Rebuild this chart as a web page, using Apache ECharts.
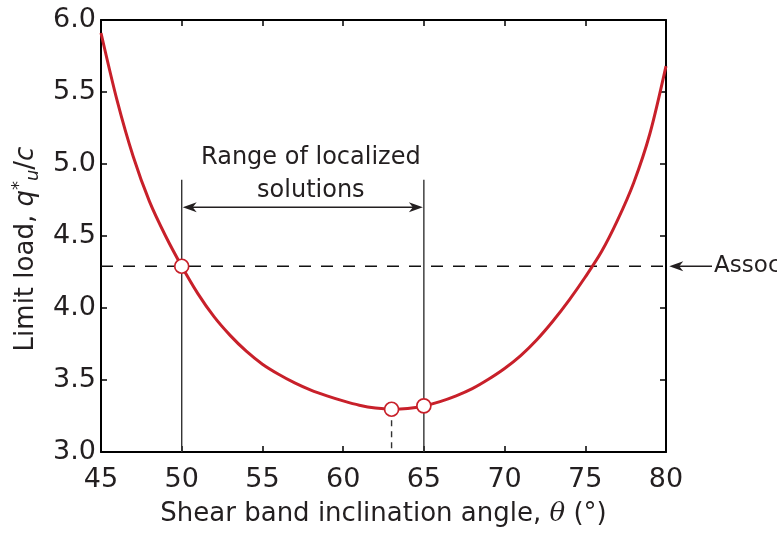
<!DOCTYPE html>
<html>
<head>
<meta charset="utf-8">
<script src="https://cdn.jsdelivr.net/npm/echarts@6/dist/echarts.min.js"></script>
<style>html,body{margin:0;padding:0;background:#fff;}#c{width:777px;height:533px;}</style>
</head>
<body>
<div id="c"></div>
<script>
// ---- data ----
const angles = [45,46,47,48,49,50,51,52,53,54,55,56,57,58,59,60,61,62,63,64,65,66,67,68,69,70,71,72,73,74,75,76,77,78,79,80];
const loads  = [5.91,5.44,5.05,4.74,4.50,4.29,4.10,3.94,3.81,3.70,3.61,3.54,3.48,3.43,3.39,3.355,3.325,3.305,3.297,3.302,3.32,3.35,3.39,3.44,3.505,3.58,3.67,3.78,3.91,4.055,4.215,4.39,4.61,4.87,5.21,5.68];
const markerAngles = [50, 63, 65];
const markerLoads  = [4.29, 3.297, 3.32];
const assocLoad = 4.29;
const rangeBounds = [50, 65];
const rangeTop = 4.89;
const rangeArrowLoad = 4.70;
const minAngle = 63;
const minLoad = 3.297;
const assocArrow = [82.85, 80.2];   // from, to (angle units, outside plot)
const assocTextAngle = 82.98;
const rangeTextPos = [58.0, 4.93];
const xTicks = [45, 50, 55, 60, 65, 70, 75, 80];
const yTicks = [3.0, 3.5, 4.0, 4.5, 5.0, 5.5, 6.0];

const FONT = '"DejaVu Sans", "Liberation Sans", Arial, sans-serif';
const SERIF = '"DejaVu Serif", "Liberation Serif", serif';
const RED = '#c8202a';
const INK = '#231f20';

function arrowHead(tip, dir) {
  const L = 14, W = 5;
  const bx = tip[0] - dir * L;
  return { type: 'polygon', shape: { points: [[tip[0], tip[1]], [bx, tip[1] - W], [bx + dir * 4, tip[1]], [bx, tip[1] + W]] },
           style: { fill: INK } };
}

const chart = echarts.init(document.getElementById('c'), null, { renderer: 'canvas' });

const axisLineStyle = { show: true, onZero: false, lineStyle: { color: '#000', width: 2 } };
const tickStyle = { show: true, inside: true, length: 6, lineStyle: { color: '#000', width: 1.5 } };

chart.setOption({
  animation: false,
  backgroundColor: '#fff',
  grid: { left: 101, right: 111, top: 20, bottom: 81, containLabel: false },
  xAxis: [
    { type: 'value', min: xTicks[0], max: xTicks[xTicks.length - 1], interval: 5, position: 'bottom',
      axisLine: axisLineStyle, axisTick: tickStyle, splitLine: { show: false },
      axisLabel: { fontSize: 27, color: INK, margin: 14, fontFamily: FONT },
      name: '{n|Shear band inclination angle, }{t|θ}{n| (°)}', nameLocation: 'middle', nameGap: 49,
      nameTextStyle: { rich: {
        n: { fontSize: 26, color: INK, fontFamily: FONT },
        t: { fontSize: 26, color: INK, fontFamily: SERIF, fontStyle: 'italic' }
      } } },
    { type: 'value', min: xTicks[0], max: xTicks[xTicks.length - 1], interval: 5, position: 'top',
      axisLine: axisLineStyle, axisTick: tickStyle, splitLine: { show: false }, axisLabel: { show: false } }
  ],
  yAxis: [
    { type: 'value', min: yTicks[0], max: yTicks[yTicks.length - 1], interval: 0.5, position: 'left',
      axisLine: axisLineStyle, axisTick: tickStyle, splitLine: { show: false },
      axisLabel: { fontSize: 27, color: INK, margin: 5, fontFamily: FONT, formatter: v => v.toFixed(1) },
      name: '{n|Limit load, }{i|q}{sup|*}{sub|u}{n|/}{i|c}', nameLocation: 'middle', nameGap: 58, nameRotate: 90,
      nameTextStyle: { padding: [0, 26, 0, 0], rich: {
        n: { fontSize: 26, color: INK, fontFamily: FONT, lineHeight: 32 },
        i: { fontSize: 26, color: INK, fontFamily: FONT, fontStyle: 'italic', lineHeight: 32 },
        sup: { fontSize: 18, color: INK, fontFamily: FONT, verticalAlign: 'top', lineHeight: 32 },
        sub: { fontSize: 18, color: INK, fontFamily: FONT, fontStyle: 'italic', verticalAlign: 'bottom', lineHeight: 32 }
      } } },
    { type: 'value', min: yTicks[0], max: yTicks[yTicks.length - 1], interval: 0.5, position: 'right',
      axisLine: axisLineStyle, axisTick: tickStyle, splitLine: { show: false }, axisLabel: { show: false } }
  ],
  series: [
    { type: 'line', data: [[xTicks[0], assocLoad], [xTicks[xTicks.length - 1], assocLoad]], symbol: 'none',
      lineStyle: { color: '#111', width: 1.3, type: [12, 10] }, z: 2, silent: true },
    { type: 'custom', z: 3, silent: true,
      data: [[rangeBounds[0], rangeArrowLoad, rangeBounds[1]]],
      renderItem: function (params, api) {
        const x0 = api.value(0), y = api.value(1), x1 = api.value(2);
        const a = api.coord([x0, y]), b = api.coord([x1, y]);
        const t0 = api.coord([x0, rangeTop]), b0 = api.coord([x0, yTicks[0]]);
        const t1 = api.coord([x1, rangeTop]), b1 = api.coord([x1, yTicks[0]]);
        const md0 = api.coord([minAngle, minLoad]), md1 = api.coord([minAngle, yTicks[0]]);
        const as = api.coord([assocArrow[0], assocLoad]), ae = api.coord([assocArrow[1], assocLoad]);
        const at = api.coord([assocTextAngle, assocLoad]);
        const rt = api.coord(rangeTextPos);
        return { type: 'group', children: [
          { type: 'line', shape: { x1: t0[0], y1: t0[1], x2: b0[0], y2: b0[1] }, style: { stroke: '#333', lineWidth: 1.4 } },
          { type: 'line', shape: { x1: t1[0], y1: t1[1], x2: b1[0], y2: b1[1] }, style: { stroke: '#333', lineWidth: 1.4 } },
          { type: 'line', shape: { x1: md0[0], y1: md0[1], x2: md1[0], y2: md1[1] }, style: { stroke: '#333', lineWidth: 1.4, lineDash: [6, 5] } },
          { type: 'line', shape: { x1: a[0] + 8, y1: a[1], x2: b[0] - 8, y2: b[1] }, style: { stroke: INK, lineWidth: 1.4 } },
          arrowHead([a[0] + 1, a[1]], -1),
          arrowHead([b[0] - 1, b[1]], 1),
          { type: 'line', shape: { x1: as[0], y1: as[1], x2: ae[0] + 8, y2: ae[1] }, style: { stroke: INK, lineWidth: 1.4 } },
          arrowHead([ae[0], ae[1]], -1),
          { type: 'text', x: at[0], y: at[1], style: { text: 'Associated flow rule', fill: INK, font: '23px ' + FONT, textAlign: 'left', textVerticalAlign: 'middle' } },
          { type: 'text', x: rt[0], y: rt[1], style: { text: 'Range of localized\nsolutions', fill: INK, font: '24px ' + FONT, lineHeight: 33, textAlign: 'center', textVerticalAlign: 'middle' } }
        ] };
      } },
    { type: 'line', data: angles.map((a, i) => [a, loads[i]]), smooth: 0.3, symbol: 'none',
      lineStyle: { color: RED, width: 3 }, z: 4, silent: true },
    { type: 'scatter', data: markerAngles.map((a, i) => [a, markerLoads[i]]), symbol: 'circle', symbolSize: 14,
      itemStyle: { color: '#fff', borderColor: RED, borderWidth: 1.7, opacity: 1 }, z: 5, silent: true }
  ]
});
</script>
</body>
</html>
